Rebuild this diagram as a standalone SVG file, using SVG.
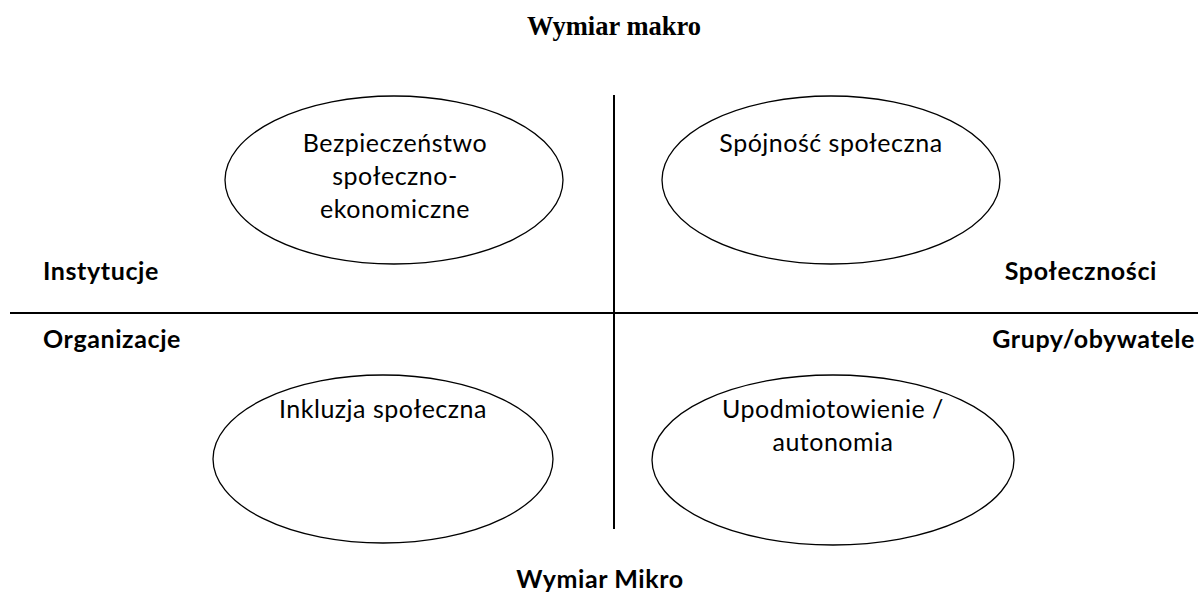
<svg xmlns="http://www.w3.org/2000/svg" width="1198" height="594" viewBox="0 0 1198 594">
<style>
.e{fill:none;stroke:#000;stroke-width:1.3}
.t{font-family:Lato,"Open Sans",sans-serif;font-size:25px;letter-spacing:0.5px;fill:#000;text-anchor:middle}
.b{font-family:Lato,"Open Sans",sans-serif;font-size:25px;letter-spacing:0.6px;font-weight:bold;fill:#000}
.ax{stroke:#000;stroke-width:2}
</style>
<rect width="1198" height="594" fill="#fff"/>
<g id="axes">
<line class="ax" x1="614" y1="95" x2="614" y2="529"/>
<line class="ax" x1="10" y1="313" x2="1198" y2="313"/>
</g>
<text x="614" y="35" style="font-family:'Liberation Serif',serif;font-size:26.5px;font-weight:bold;text-anchor:middle">Wymiar makro</text>
<text x="600" y="588" class="b" style="text-anchor:middle">Wymiar Mikro</text>
<text x="43" y="280" class="b">Instytucje</text>
<text x="1157" y="280" class="b" style="text-anchor:end">Społeczności</text>
<text x="43" y="348" class="b">Organizacje</text>
<text x="1195" y="348" class="b" style="text-anchor:end">Grupy/obywatele</text>
<g id="n1">
<ellipse class="e" cx="394" cy="180" rx="169" ry="84"/>
<text class="t" x="395" y="152">Bezpieczeństwo</text>
<text class="t" x="395" y="185">społeczno-</text>
<text class="t" x="395" y="218">ekonomiczne</text>
</g>
<g id="n2">
<ellipse class="e" cx="831" cy="180" rx="169" ry="84"/>
<text class="t" x="831" y="152">Spójność społeczna</text>
</g>
<g id="n3">
<ellipse class="e" cx="383" cy="459" rx="170" ry="84"/>
<text class="t" x="383" y="418">Inkluzja społeczna</text>
</g>
<g id="n4">
<ellipse class="e" cx="833" cy="460" rx="181" ry="85"/>
<text class="t" x="833" y="418">Upodmiotowienie /</text>
<text class="t" x="833" y="451">autonomia</text>
</g>
</svg>
